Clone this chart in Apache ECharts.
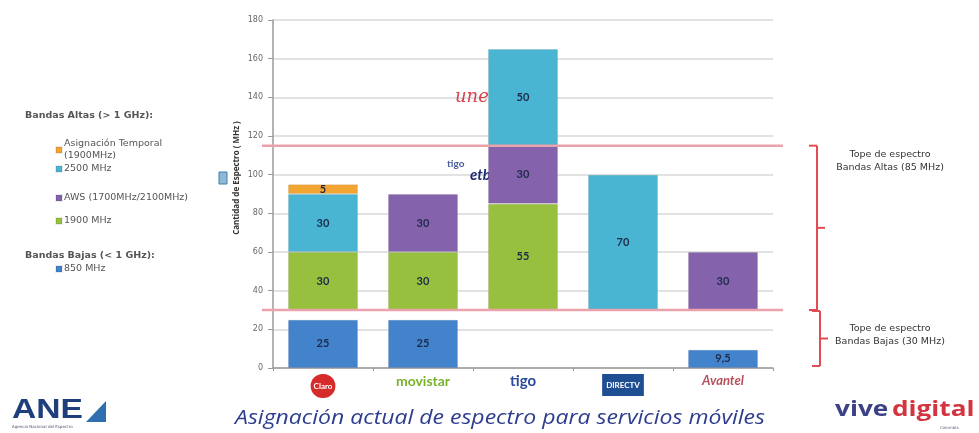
<!DOCTYPE html>
<html><head><meta charset="utf-8">
<script src="https://cdn.jsdelivr.net/npm/echarts@6/dist/echarts.min.js"></script>
<style>html,body{margin:0;padding:0;background:#fff}#c{width:979px;height:433px}</style>
</head><body><div id="c"></div>
<script>
// ---- data ----
const categories = ['Claro', 'Movistar', 'Tigo', 'DirecTV', 'Avantel'];
const band850 = [25, 25, null, null, 9.5];
const band1900 = [30, 30, 55, null, null];
const bandAWS = [null, 30, 30, null, 30];
const band2500 = [30, null, 50, 70, null];
const bandTemporal = [5, null, null, null, null];
const yMin = 0, yMax = 180, yStep = 20;
const topeBajas = 30;   // MHz
const topeAltas = 85;   // MHz
const gapToTope = band850.map(v => topeBajas - (v || 0));

const C = {
  b850: '#4283cc', b1900: '#97c03e', aws: '#8463ac', b2500: '#4ab5d2', temp: '#f3a531',
  red: '#e24a55', pink: '#eba3ab', grid: '#d9d9d9', axis: '#9a9a9a'
};

const chart = echarts.init(document.getElementById('c'), null, {renderer: 'canvas'});

const lbl = {
  show: true, position: 'inside', color: '#1f2a4a', fontWeight: 'bold', fontSize: 11,
  fontFamily: 'Lato, sans-serif',
  formatter: p => (p.value == null ? '' : String(p.value).replace('.', ','))
};
function bar(name, data, color) {
  return {
    name, type: 'bar', stack: 's', data, barWidth: 70,
    itemStyle: {color, borderColor: 'rgba(0,0,0,0.08)', borderWidth: 1}, label: lbl,
    emphasis: {disabled: true}
  };
}

const axisLabelRich = {
  claro: {color: '#fff', backgroundColor: '#d62b2b', borderRadius: 13, padding: [8, 3], fontSize: 8, fontWeight: 'bold', fontFamily: 'Lato'},
  movi: {color: '#79b22c', fontSize: 14, fontWeight: 'bold', fontFamily: 'Lato'},
  tigo: {color: '#2b4a9a', fontSize: 15, fontWeight: 'bold', fontFamily: 'Lato'},
  dtv: {color: '#fff', backgroundColor: '#1e4f92', padding: [7, 4], fontSize: 8, fontWeight: 'bold', fontFamily: 'Lato'},
  ava: {color: '#b5505c', fontSize: 13, fontStyle: 'italic', fontWeight: 'bold', fontFamily: 'Lato'}
};
const richKey = {Claro: 'claro', Movistar: 'movi', Tigo: 'tigo', DirecTV: 'dtv', Avantel: 'ava'};
const richText = {Claro: 'Claro', Movistar: 'movistar', Tigo: 'tigo', DirecTV: 'DIRECTV', Avantel: 'Avantel'};

function legendAt(name, top, fmt) {
  return {
    data: [name], left: 55, top, orient: 'vertical', itemWidth: 6, itemHeight: 6,
    itemGap: 0, padding: 0, selectedMode: false, icon: 'rect',
    textStyle: {fontSize: 9.5, color: '#555', fontFamily: 'DejaVu Sans', padding: [0, 0, 0, -3], lineHeight: 12},
    formatter: fmt || (n => n)
  };
}

chart.setOption({
  animation: false,
  grid: {left: 273, right: 206, top: 20, bottom: 65, containLabel: false},
  xAxis: {
    type: 'category', data: categories,
    axisLine: {lineStyle: {color: C.axis, width: 1.5}},
    axisTick: {show: true, length: 3, lineStyle: {color: C.axis}},
    axisLabel: {
      margin: 6, interval: 0,
      formatter: v => '{' + richKey[v] + '|' + richText[v] + '}',
      rich: axisLabelRich
    }
  },
  yAxis: {
    type: 'value', min: yMin, max: yMax, interval: yStep,
    axisLine: {show: true, lineStyle: {color: C.axis, width: 1.5}},
    axisTick: {show: true, length: 5, lineStyle: {color: C.axis}},
    splitLine: {lineStyle: {color: C.grid, width: 1.5}},
    axisLabel: {fontSize: 8, color: '#666', margin: 10, fontFamily: 'DejaVu Sans'}
  },
  legend: [
    legendAt('Asignación Temporal', 138, () => 'Asignación Temporal\n(1900MHz)'),
    legendAt('2500 MHz', 163),
    legendAt('AWS (1700MHz/2100MHz)', 192),
    legendAt('1900 MHz', 215),
    legendAt('850 MHz', 263)
  ],
  series: [
    bar('850 MHz', band850, C.b850),
    {name: 'gap', type: 'bar', stack: 's', data: gapToTope, barWidth: 70,
      itemStyle: {color: 'rgba(0,0,0,0)'}, label: {show: false}, emphasis: {disabled: true}, tooltip: {show: false}},
    bar('1900 MHz', band1900, C.b1900),
    bar('AWS (1700MHz/2100MHz)', bandAWS, C.aws),
    bar('2500 MHz', band2500, C.b2500),
    bar('Asignación Temporal', bandTemporal, C.temp)
  ]
});

// ---- overlays positioned via the axis scales ----
const yPix = v => chart.convertToPixel({yAxisIndex: 0}, v);
const xPix = i => chart.convertToPixel({xAxisIndex: 0}, i);
const y0 = yPix(0), y30 = yPix(topeBajas), y115 = yPix(topeBajas + topeAltas);
const gridRight = xPix(categories.length - 1) + 50;

function brace(x, yTop, yBot) {
  const mid = (yTop + yBot) / 2;
  return [
    {type: 'line', shape: {x1: x, y1: yTop, x2: x, y2: yBot}, style: {stroke: C.red, lineWidth: 2}},
    {type: 'line', shape: {x1: x - 8, y1: yTop, x2: x, y2: yTop}, style: {stroke: C.red, lineWidth: 2}},
    {type: 'line', shape: {x1: x - 8, y1: yBot, x2: x, y2: yBot}, style: {stroke: C.red, lineWidth: 2}},
    {type: 'line', shape: {x1: x, y1: mid, x2: x + 8, y2: mid}, style: {stroke: C.red, lineWidth: 2}}
  ];
}
const txt = (x, y, text, style, extra) => Object.assign({type: 'text', x, y, style: Object.assign({text, fontFamily: 'DejaVu Sans', fill: '#333', fontSize: 9.5}, style)}, extra || {});

chart.setOption({
  graphic: [].concat(
    [
      {type: 'line', shape: {x1: 262, y1: y30, x2: gridRight + 10, y2: y30}, style: {stroke: C.pink, lineWidth: 2.5}, z: 10},
      {type: 'line', shape: {x1: 262, y1: y115, x2: gridRight + 10, y2: y115}, style: {stroke: C.pink, lineWidth: 2.5}, z: 10}
    ],
    brace(817, y115, y30),
    brace(820, y30 + 1, y0 - 2),
    [
      txt(890, 148, 'Tope de espectro\nBandas Altas (85 MHz)', {align: 'center', lineHeight: 13}),
      txt(890, 322, 'Tope de espectro\nBandas Bajas (30 MHz)', {align: 'center', lineHeight: 13}),
      txt(25, 111, 'Bandas Altas (> 1 GHz):', {fontSize: 9.5, fontWeight: 'bold', fill: '#555'}),
      txt(25, 251, 'Bandas Bajas (< 1 GHz):', {fontSize: 9.5, fontWeight: 'bold', fill: '#555'}),
      {type: 'text', x: 237, y: 178, rotation: Math.PI / 2,
        style: {text: 'Cantidad de Espectro ( MHz )', fontFamily: 'Open Sans', fontWeight: 'bold', fontSize: 8, fill: '#333', align: 'center', verticalAlign: 'middle'}},
      {type: 'rect', shape: {x: 219, y: 172, width: 8, height: 12}, style: {fill: '#8fb7d6', stroke: '#3f7fae', lineWidth: 1}},
      // operator marks
      txt(455, 88, 'une', {fontSize: 18, fill: '#d8414a', fontStyle: 'italic', fontFamily: 'DejaVu Serif'}),
      txt(447, 159, 'tigo', {fontSize: 10, fill: '#4a5d9a', fontWeight: 'bold', fontFamily: 'Lato'}),
      txt(470, 168, 'etb', {fontSize: 15, fill: '#1d2a6e', fontStyle: 'italic', fontWeight: 'bold', fontFamily: 'Lato'}),
      // footer
      txt(500, 418, 'Asignación actual de espectro para servicios móviles',
        {align: 'center', verticalAlign: 'middle', fontSize: 20, fontStyle: 'italic', fill: '#2d3d8e', fontFamily: 'Open Sans'},
        {scaleX: 1.15, originX: 0, originY: 0}),
      txt(12, 396, 'ANE', {fontSize: 28, fontWeight: 'bold', fill: '#1f3f7c', fontFamily: 'Liberation Sans Narrow, Liberation Sans'},
        {scaleX: 1.2, originX: 0, originY: 0}),
      {type: 'polygon', shape: {points: [[86, 422], [106, 422], [106, 401]]}, style: {fill: '#2f6fb0'}},
      txt(12, 425, 'Agencia Nacional del Espectro', {fontSize: 4, fill: '#557'}),
      {type: 'text', x: 835, y: 399, scaleX: 1.19, originX: 0, originY: 0, style: {
        text: '{a|vive} {b|digital}', fontFamily: 'Open Sans',
        rich: {a: {fontSize: 22, fontWeight: 'bold', fill: '#3b4184', fontFamily: 'Open Sans'},
               b: {fontSize: 22, fontWeight: 'bold', fill: '#d3343f', fontFamily: 'Open Sans'}}
      }},
      txt(940, 426, 'Colombia', {fontSize: 4, fill: '#667'})
    ]
  )
});
</script></body></html>
